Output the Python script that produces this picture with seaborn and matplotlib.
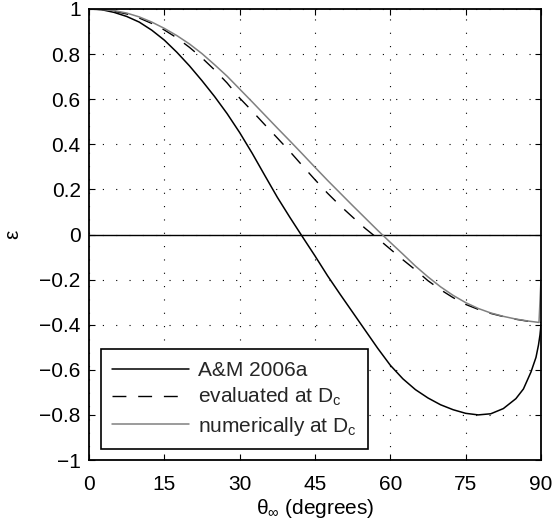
import matplotlib
matplotlib.use("Agg")
import matplotlib.pyplot as plt
import seaborn as sns

# ---- data ----
am_theta = [0, 2.5, 5, 7.5, 10, 12.5, 15, 17.5, 20, 22.5, 25, 27.5, 30, 32.5, 35, 37.5,
            40, 42.5, 45, 47.5, 50, 52.5, 55, 57.5, 60, 62.5, 65, 67.5, 70, 72.5, 75,
            77.5, 80, 82.5, 85, 86.5, 88, 89, 89.5, 89.8, 90]
am_eps = [1.0, 0.997, 0.985, 0.967, 0.942, 0.906, 0.862, 0.808, 0.748, 0.682, 0.612,
          0.536, 0.452, 0.36, 0.262, 0.165, 0.076, -0.01, -0.095, -0.183, -0.265,
          -0.345, -0.425, -0.505, -0.58, -0.64, -0.688, -0.725, -0.755, -0.777, -0.793,
          -0.80, -0.795, -0.772, -0.728, -0.685, -0.61, -0.545, -0.49, -0.445, -0.40]

ev_theta = [0, 2.5, 5, 7.5, 10, 12.5, 15, 17.5, 20, 22.5, 25, 27.5, 30, 32.5, 35, 37.5,
            40, 42.5, 45, 47.5, 50, 52.5, 55, 57.5, 60, 62.5, 65, 67.5, 70, 72.5, 75,
            77.5, 80, 82.5, 85, 87.5, 90]
ev_eps = [1.0, 0.998, 0.99, 0.978, 0.96, 0.936, 0.907, 0.872, 0.83, 0.783, 0.73, 0.672,
          0.605, 0.547, 0.487, 0.428, 0.368, 0.305, 0.243, 0.183, 0.128, 0.077, 0.027,
          -0.018, -0.065, -0.112, -0.157, -0.205, -0.245, -0.28, -0.31, -0.332, -0.35,
          -0.364, -0.376, -0.385, -0.39]

nu_theta = [0, 2.5, 5, 7.5, 10, 12.5, 15, 17.5, 20, 22.5, 25, 27.5, 30, 32.5, 35, 37.5,
            40, 42.5, 45, 47.5, 50, 52.5, 55, 57.5, 60, 62.5, 65, 67.5, 70, 72.5, 75,
            77.5, 80, 82.5, 85, 87.5, 89.6, 90]
nu_eps = [1.0, 0.998, 0.993, 0.982, 0.965, 0.942, 0.914, 0.882, 0.845, 0.802, 0.753,
          0.702, 0.645, 0.588, 0.53, 0.472, 0.415, 0.357, 0.298, 0.24, 0.184, 0.128,
          0.073, 0.018, -0.035, -0.087, -0.14, -0.188, -0.232, -0.27, -0.302, -0.328,
          -0.348, -0.363, -0.375, -0.384, -0.39, -0.2]

labels = ["A&M 2006a", r"evaluated at D$_\mathregular{c}$", r"numerically at D$_\mathregular{c}$"]
xticks = [0, 15, 30, 45, 60, 75, 90]
yticks = [-1, -0.8, -0.6, -0.4, -0.2, 0, 0.2, 0.4, 0.6, 0.8, 1]
ytick_labels = ["\u22121", "\u22120.8", "\u22120.6", "\u22120.4", "\u22120.2", "0",
                "0.2", "0.4", "0.6", "0.8", "1"]

sns.set_theme(style="white")
plt.rcParams["font.family"] = ["Liberation Sans", "DejaVu Sans"]
plt.rcParams["mathtext.fontset"] = "custom"
plt.rcParams["mathtext.rm"] = "Liberation Sans"
plt.rcParams["mathtext.it"] = "Liberation Sans:italic"
plt.rcParams["mathtext.default"] = "regular"

fs = 15
fig = plt.figure(figsize=(5.54, 5.26), dpi=100)
ax = fig.add_axes([89 / 554, 1 - 460 / 526, 452 / 554, 451 / 526])

sns.lineplot(x=am_theta, y=am_eps, ax=ax, color="black", lw=1.1, label=labels[0],
             estimator=None)
sns.lineplot(x=ev_theta, y=ev_eps, ax=ax, color="black", lw=1.0, label=labels[1],
             estimator=None, linestyle=(0, (10, 8.5)))
sns.lineplot(x=nu_theta, y=nu_eps, ax=ax, color="0.5", lw=1.1, label=labels[2],
             estimator=None)
ax.axhline(0, color="black", lw=1.0, zorder=1)

ax.set_xlim(0, 90)
ax.set_ylim(-1, 1)
ax.set_xticks(xticks)
ax.set_xticklabels([str(t) for t in xticks], fontsize=fs)
ax.set_yticks(yticks)
ax.set_yticklabels(ytick_labels, fontsize=fs)
ax.tick_params(direction="in", length=4, width=0.8, top=True, right=True,
               bottom=True, left=True, color="black", labelcolor="black")
ax.tick_params(axis="x", pad=11)
ax.tick_params(axis="y", pad=6)
ax.grid(True, color="black", linestyle=(0, (1, 11)), linewidth=0.8)
for s in ax.spines.values():
    s.set_color("black")
    s.set_linewidth(1.3)
    s.set_visible(True)

ax.set_xlabel(r"$\theta_\infty$ (degrees)", fontsize=fs, color="black", labelpad=2)
ax.set_ylabel("\u03b5", fontsize=fs, color="black", labelpad=12)

leg = ax.legend(loc="lower left", bbox_to_anchor=(0.026, 0.024), fontsize=fs,
                frameon=True, fancybox=False, edgecolor="black", handlelength=3.7,
                handletextpad=0.4, borderpad=0.55, borderaxespad=0.0,
                labelspacing=0.3, framealpha=1)
leg.get_frame().set_linewidth(1.2)

fig.savefig("out.png", dpi=100)
